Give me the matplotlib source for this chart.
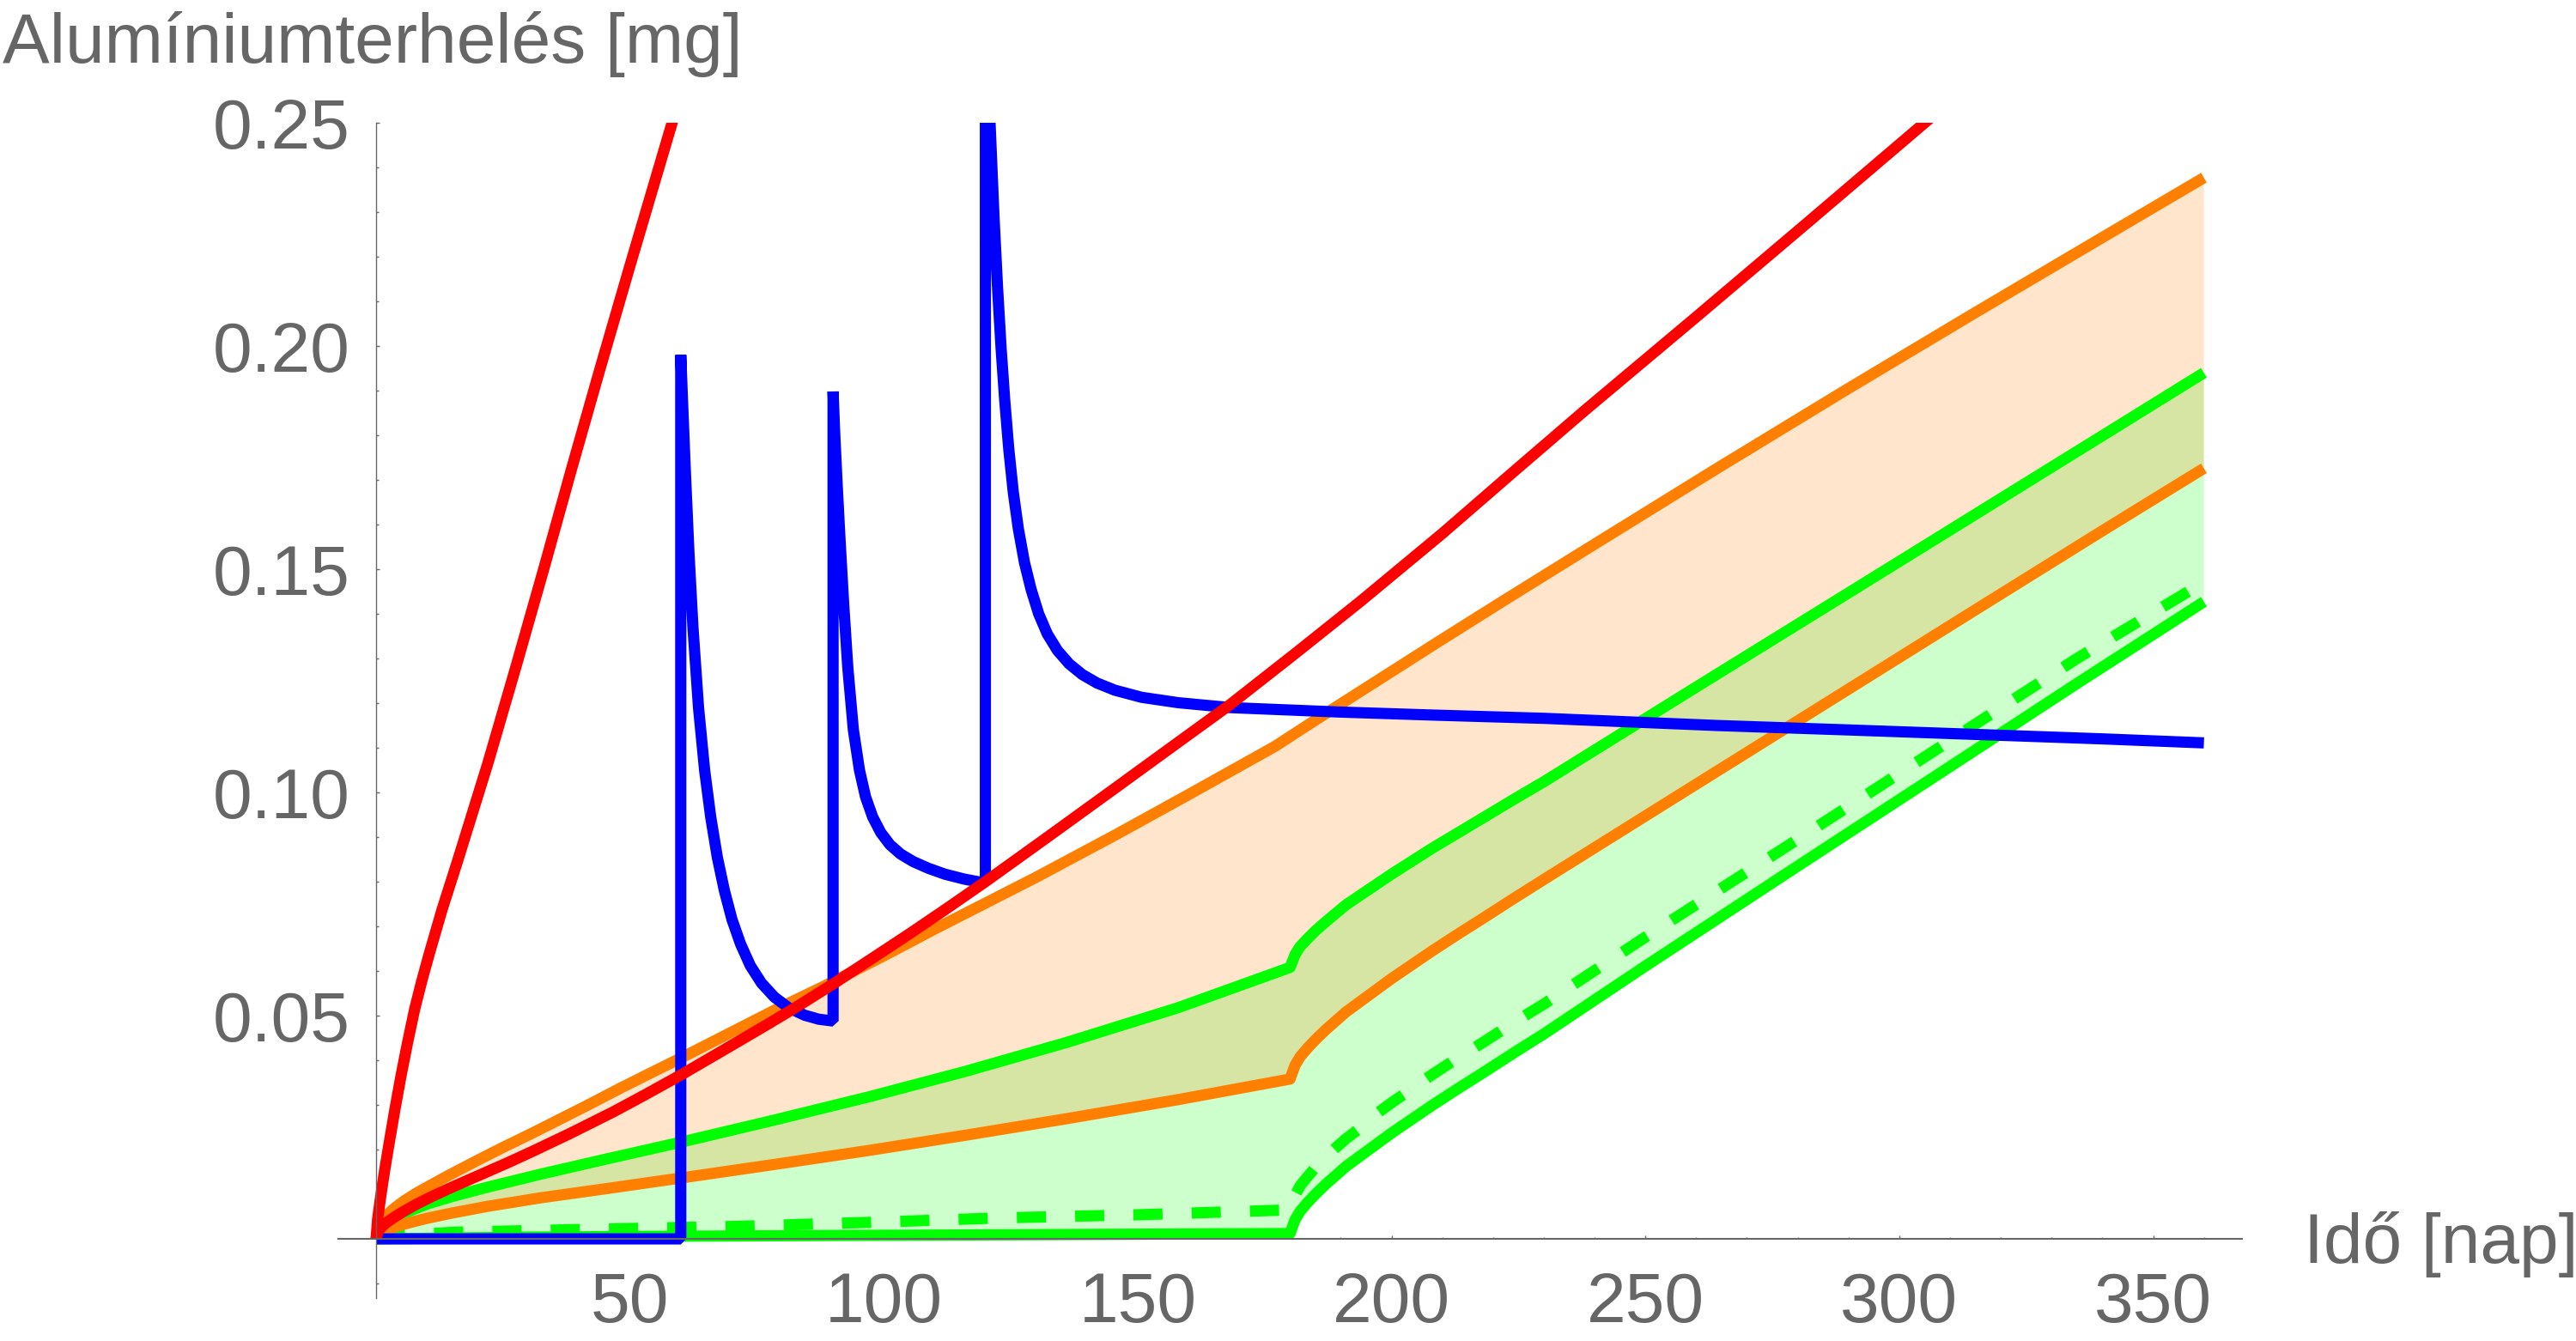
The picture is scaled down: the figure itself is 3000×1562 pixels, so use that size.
import numpy as np
import matplotlib
matplotlib.use('Agg')
import matplotlib.pyplot as plt
from matplotlib.ticker import FixedLocator, FormatStrFormatter

plt.rcParams['font.family'] = ['Liberation Sans', 'DejaVu Sans']

# --- data (time in days, load in mg) ---
t_red_fast = [0, 0.3, 0.9, 1.7, 2.5, 3.7, 4.9, 6.2, 7.6, 9, 10.5, 13, 16, 22, 27.5, 33,
              38.5, 44, 50, 58.3, 61]
red_fast   = [0, 0.0045, 0.0095, 0.0155, 0.0210, 0.0290, 0.0365, 0.0440, 0.0515, 0.0578,
              0.0640, 0.0738, 0.0845, 0.1065, 0.1280, 0.1500, 0.1725, 0.1945, 0.2180,
              0.2500, 0.2605]

t_red_slow = [0, 0.3, 1, 2, 3.5, 5.5, 8, 11, 14.4, 18, 22, 26, 30.6, 38, 46.8, 53, 60, 68,
              77, 83, 90, 97, 105, 112, 120, 132, 145, 156, 168, 181, 194, 210, 224, 238,
              260, 282, 304.5, 310]
red_slow   = [0, 0.0015, 0.0026, 0.0036, 0.0048, 0.0062, 0.0078, 0.0095, 0.0113, 0.0131,
              0.0151, 0.0171, 0.0195, 0.0235, 0.0285, 0.0323, 0.0367, 0.0420, 0.0480,
              0.0521, 0.0571, 0.0623, 0.0683, 0.0737, 0.0800, 0.0898, 0.1005, 0.1096,
              0.1195, 0.1311, 0.1429, 0.1580, 0.1718, 0.1855, 0.2065, 0.2277, 0.2495,
              0.2548]

t_orange_hi = [0, 0.3, 1, 2, 3.5, 5.5, 8, 11, 14.4, 19.8, 25, 30.6, 36, 41.4, 48, 54.5,
               60, 70, 80, 88.4, 100, 110, 120, 130, 145.8, 160, 177, 185, 209, 222, 237,
               264, 290, 315, 340, 360]
orange_hi   = [0, 0.0022, 0.0037, 0.0052, 0.0068, 0.0085, 0.0103, 0.0122, 0.0143, 0.0175,
               0.0205, 0.0236, 0.0267, 0.0298, 0.0337, 0.0374, 0.0405, 0.0463, 0.0521,
               0.0567, 0.0634, 0.0694, 0.0752, 0.0810, 0.0906, 0.0995, 0.1103, 0.1162,
               0.1336, 0.1429, 0.1535, 0.1725, 0.1905, 0.2075, 0.2243, 0.2377]

t_orange_lo = [0, 0.3, 1, 2, 4, 6.5, 10, 15, 22, 32.4, 45, 59.8, 78, 97, 116, 135.9, 158,
               180, 181, 182, 183.5, 185, 187, 189, 191, 194, 197, 200, 204, 208, 213, 218,
               224, 230, 258.4, 287, 315, 340, 360]
orange_lo   = [0, 0.0008, 0.0014, 0.0020, 0.0028, 0.0036, 0.0046, 0.0058, 0.0073, 0.0092,
               0.0112, 0.0136, 0.0166, 0.0198, 0.0232, 0.0269, 0.0312, 0.0358, 0.0389,
               0.0408, 0.0428, 0.0446, 0.0468, 0.0488, 0.0508, 0.0533, 0.0558, 0.0583,
               0.0614, 0.0645, 0.0682, 0.0718, 0.0762, 0.0805, 0.1007, 0.1210, 0.1409,
               0.1586, 0.1726]

t_green_hi = [0, 0.3, 1, 2, 4, 6.5, 10, 15, 22, 32.4, 45, 59.8, 78, 97, 116, 136, 158, 180,
              181, 182, 183.5, 185, 187, 189, 191, 194, 197, 200, 204, 208, 213, 218, 224,
              230, 260, 290, 315, 340, 360]
green_hi   = [0, 0.0012, 0.0022, 0.0032, 0.0047, 0.0062, 0.0078, 0.0095, 0.0116, 0.0145,
              0.0178, 0.0216, 0.0265, 0.0318, 0.0375, 0.0440, 0.0518, 0.0608, 0.0637,
              0.0655, 0.0673, 0.0690, 0.0710, 0.0729, 0.0748, 0.0771, 0.0794, 0.0817,
              0.0846, 0.0875, 0.0909, 0.0943, 0.0984, 0.1024, 0.1236, 0.1447, 0.1623,
              0.1799, 0.1940]

t_green_lo = [0, 30, 60, 100, 140, 180, 181, 182, 183.5, 185, 187, 189, 191, 194, 197, 200,
              204, 208, 213, 218, 224, 230, 250, 280, 315, 335, 360]
green_lo   = [0, 0.0004, 0.0006, 0.0008, 0.0010, 0.0012, 0.0043, 0.0062, 0.0082, 0.0100,
              0.0122, 0.0142, 0.0162, 0.0187, 0.0212, 0.0237, 0.0268, 0.0299, 0.0336,
              0.0372, 0.0416, 0.0459, 0.0611, 0.0835, 0.1095, 0.1244, 0.1427]

t_green_mid = [0, 5, 15.5, 40, 71, 100, 123, 150, 180, 181, 182, 183.5, 185, 187, 189, 191,
               194, 197, 200, 204, 208, 213, 218, 224, 230, 250, 280, 315, 335, 360]
green_mid   = [0, 0.0008, 0.0015, 0.0021, 0.0028, 0.0038, 0.0047, 0.0054, 0.0065, 0.0098,
               0.0119, 0.0140, 0.0160, 0.0183, 0.0204, 0.0224, 0.0250, 0.0280, 0.0305,
               0.0336, 0.0368, 0.0405, 0.0440, 0.0484, 0.0526, 0.0676, 0.0895, 0.1153,
               0.1300, 0.1471]

# blue: three doses (jumps at day 60, 90, 120), each followed by a decay
t_blue = [0, 60,
          60, 60.3, 60.9, 61.6, 62.4, 63.5, 64.7, 65.9, 67.2, 68.6, 70.1, 71.8, 73.7, 75.9,
          78.4, 81.2, 84.4, 87.2, 90,
          90, 90.3, 90.8, 91.4, 92.1, 92.9, 94, 95.2, 96.4, 97.8, 99.4, 101.2, 103.3, 105.8,
          108.8, 112, 115.8, 120,
          120, 120.5, 120.9, 121.7, 122.4, 123.1, 123.8, 124.6, 125.5, 126.5, 127.7, 129,
          130.5, 132.2, 134.2, 136.5, 139.1, 142, 145.5, 150.8, 158, 168.3, 190, 209, 230,
          264, 290, 315, 340, 360]
blue   = [0, 0,
          0.198, 0.189, 0.172, 0.154, 0.137, 0.119, 0.105, 0.0945, 0.0855, 0.0780, 0.0715,
          0.0660, 0.0612, 0.0573, 0.0542, 0.0518, 0.0501, 0.0492, 0.0488,
          0.1898, 0.181, 0.169, 0.156, 0.142, 0.128, 0.114, 0.1050, 0.0990, 0.0945, 0.0910,
          0.0883, 0.0862, 0.0845, 0.0830, 0.0817, 0.0806, 0.0797,
          0.285, 0.263, 0.2504, 0.2288, 0.2130, 0.1994, 0.1880, 0.1770, 0.1672, 0.1590,
          0.1515, 0.1455, 0.1400, 0.1355, 0.1318, 0.1288, 0.1264, 0.1245, 0.1229, 0.1213,
          0.1201, 0.1190, 0.1180, 0.1173, 0.1166, 0.1150, 0.1140, 0.1130, 0.1120, 0.1111]

x_major = [50, 100, 150, 200, 250, 300, 350]
y_major = [0.05, 0.10, 0.15, 0.20, 0.25]

GRAY = '#666666'
LW = 4.7
FS = 29.5

fig = plt.figure(figsize=(15, 7.81), dpi=200)
ax = fig.add_axes([0.13123, 0.03220, 0.73910, 0.87625])

# shaded bands (green first, orange on top)
ax.fill(np.r_[t_green_hi, t_green_lo[::-1]], np.r_[green_hi, green_lo[::-1]],
        color='#00FF00', alpha=0.2, lw=0, zorder=1)
ax.fill(np.r_[t_orange_hi, t_orange_lo[::-1]], np.r_[orange_hi, orange_lo[::-1]],
        color='#FF8000', alpha=0.2, lw=0, zorder=1.1)

kw = dict(lw=LW, solid_capstyle='butt')
ax.plot(t_green_hi, green_hi, color='#00FF00', **kw)
ax.plot(t_green_lo, green_lo, color='#00FF00', **kw)
ax.plot(t_green_mid, green_mid, color='#00FF00', lw=LW, ls=(0, (2.6, 2.6)),
        dash_capstyle='butt')
ax.plot(t_orange_hi, orange_hi, color='#FF8000', **kw)
ax.plot(t_orange_lo, orange_lo, color='#FF8000', **kw)
ax.plot(t_blue, blue, color='#0000FF', solid_joinstyle='bevel', **kw)
ax.plot(t_red_slow, red_slow, color='#FF0000', **kw)
ax.plot(t_red_fast, red_fast, color='#FF0000', **kw)

ax.set_xlim(-7.5, 367.5)
ax.set_ylim(-0.0132, 0.25)

for s in ('top', 'right'):
    ax.spines[s].set_visible(False)
ax.spines['left'].set_position(('data', 0))
ax.spines['bottom'].set_position(('data', 0))
ax.spines['left'].set_color(GRAY)
ax.spines['bottom'].set_color(GRAY)
ax.spines['left'].set_linewidth(0.5)
ax.spines['bottom'].set_linewidth(0.75)
ax.spines['left'].set_zorder(3)
ax.spines['bottom'].set_zorder(3)

ax.xaxis.set_major_locator(FixedLocator(x_major))
ax.xaxis.set_minor_locator(FixedLocator([v for v in range(10, 361, 10) if v % 50]))
ax.yaxis.set_major_locator(FixedLocator(y_major))
ax.yaxis.set_minor_locator(FixedLocator([v / 100 for v in range(-1, 25) if v % 5]))
ax.yaxis.set_major_formatter(FormatStrFormatter('%.2f'))

ax.tick_params(axis='both', which='both', direction='in', color=GRAY, width=0.5,
               labelcolor=GRAY, labelsize=FS)
ax.tick_params(axis='both', which='major', length=1.5)
ax.tick_params(axis='both', which='minor', length=0.9)
ax.tick_params(axis='x', which='major', pad=13.5)
ax.tick_params(axis='y', which='major', pad=10.8)

fig.text(0.001, 1 - 73 / 1562, 'Alumíniumterhelés [mg]', color=GRAY, fontsize=FS,
         ha='left', va='baseline')
fig.text(2683 / 3000, 1 - 1470.7 / 1562, 'Idő [nap]', color=GRAY, fontsize=FS,
         ha='left', va='baseline')

fig.savefig('out.png', dpi=200)
